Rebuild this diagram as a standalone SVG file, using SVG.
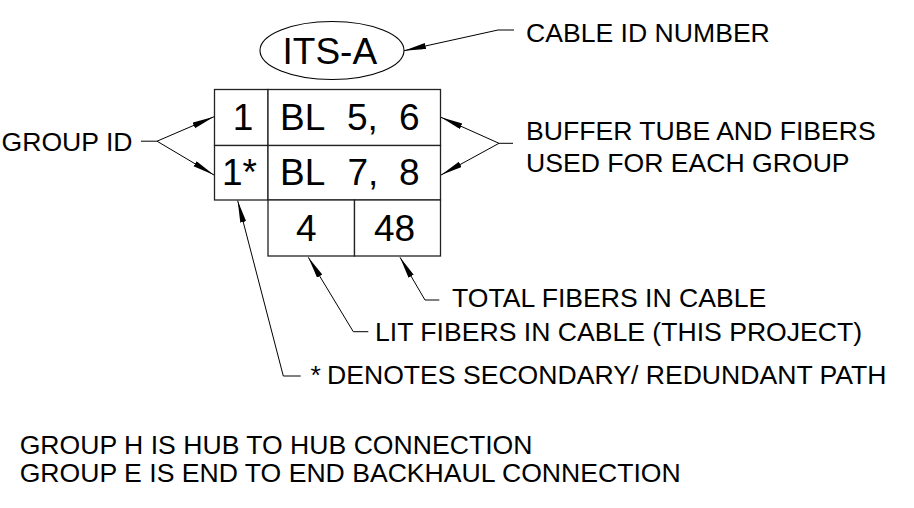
<svg xmlns="http://www.w3.org/2000/svg" width="914" height="508" viewBox="0 0 914 508">
  <defs>
    <style>
      .lbl { font-family: "Liberation Sans", Arial, sans-serif; font-size: 26.6px; fill: #000; }
      .big { font-family: "Liberation Sans", Arial, sans-serif; font-size: 37px; fill: #000; }
      .cell { fill: #fff; stroke: #222; stroke-width: 1.3; }
      .ln { fill: none; stroke: #000; stroke-width: 1; }
    </style>
    <marker id="arr" markerUnits="userSpaceOnUse" markerWidth="24" markerHeight="8" refX="22" refY="3" orient="auto">
      <path d="M0,0 L22,3 L0,6 z" fill="#000"/>
    </marker>
  </defs>
  <rect width="914" height="508" fill="#fff"/>

  <g id="cable-id">
    <ellipse cx="332" cy="50.5" rx="72" ry="29" fill="#fff" stroke="#000" stroke-width="1.1"/>
    <text class="big" x="282.5" y="64">ITS-A</text>
  </g>

  <g id="table">
    <rect class="cell" x="214.5" y="89.5" width="53.5" height="56"/>
    <rect class="cell" x="214.5" y="145.5" width="53.5" height="54.5"/>
    <rect class="cell" x="268" y="89.5" width="172.5" height="56"/>
    <rect class="cell" x="268" y="145.5" width="172.5" height="54.5"/>
    <rect class="cell" x="268" y="200" width="86.5" height="56"/>
    <rect class="cell" x="354.5" y="200" width="86" height="56"/>
    <text class="big" x="232.7" y="130">1</text>
    <text class="big" x="222" y="185">1*</text>
    <text class="big" y="130"><tspan x="280">BL</tspan><tspan x="347">5,</tspan><tspan x="399">6</tspan></text>
    <text class="big" y="185"><tspan x="280">BL</tspan><tspan x="347.5">7,</tspan><tspan x="399">8</tspan></text>
    <text class="big" x="296" y="240.5">4</text>
    <text class="big" x="374" y="240.5">48</text>
  </g>

  <g id="labels">
    <text class="lbl" x="526" y="41.7">CABLE ID NUMBER</text>
    <text class="lbl" x="1.5" y="150.5">GROUP ID</text>
    <text class="lbl" x="526" y="140">BUFFER TUBE AND FIBERS</text>
    <text class="lbl" x="526" y="172">USED FOR EACH GROUP</text>
    <text class="lbl" x="452" y="306.7">TOTAL FIBERS IN CABLE</text>
    <text class="lbl" x="375" y="340.7">LIT FIBERS IN CABLE (THIS PROJECT)</text>
    <text class="lbl" x="310.5" y="384">*</text>
    <text class="lbl" x="327" y="384">DENOTES SECONDARY/ REDUNDANT PATH</text>
    <text class="lbl" x="19.7" y="454">GROUP H IS HUB TO HUB CONNECTION</text>
    <text class="lbl" x="19.7" y="482.3">GROUP E IS END TO END BACKHAUL CONNECTION</text>
  </g>

  <g id="connectors">
    <path class="ln" d="M514,30 L498,30 L404,50.7" marker-end="url(#arr)"/>
    <path class="ln" d="M141,141.2 L157,141.2 L214,116.7" marker-end="url(#arr)"/>
    <path class="ln" d="M157,141.2 L214,175" marker-end="url(#arr)"/>
    <path class="ln" d="M513,143.3 L499,143.3 L441,117.3" marker-end="url(#arr)"/>
    <path class="ln" d="M499,143.3 L441,175" marker-end="url(#arr)"/>
    <path class="ln" d="M439.3,300 L425,300 L400,257.3" marker-end="url(#arr)"/>
    <path class="ln" d="M368.3,331.7 L353.3,331.7 L308.3,257.3" marker-end="url(#arr)"/>
    <path class="ln" d="M300.7,376 L283.3,376 L237.7,200.7" marker-end="url(#arr)"/>
  </g>
</svg>
